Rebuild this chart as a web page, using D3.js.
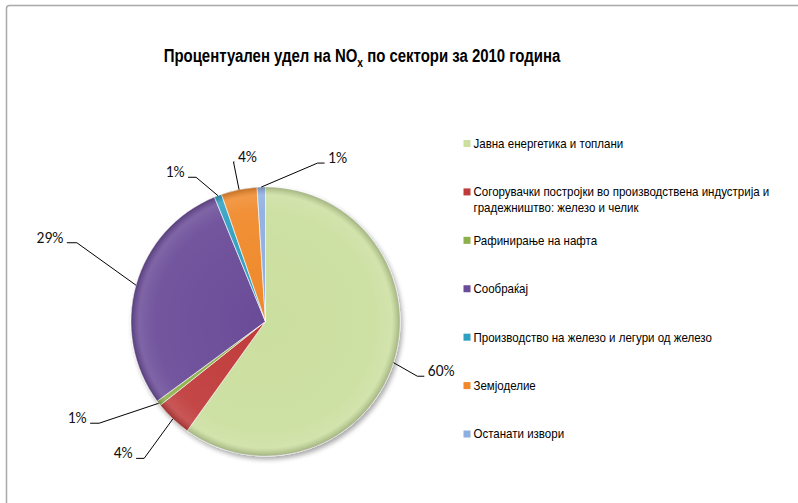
<!DOCTYPE html>
<html>
<head>
<meta charset="utf-8">
<script src="https://cdn.jsdelivr.net/npm/d3@7"></script>
<style>
  body { margin: 0; background: #fff; }
  svg { display: block; }
</style>
</head>
<body>
<svg id="chart" width="798" height="503"></svg>
<script>
// sectors, clockwise from 12 o'clock
const sectors = [
  ["Јавна енергетика и топлани"],
  ["Согорувачки постројки во производствена индустрија и", "градежништво: железо и челик"],
  ["Рафинирање на нафта"],
  ["Сообраќај"],
  ["Производство на железо и легури од железо"],
  ["Земјоделие"],
  ["Останати извори"]
];
const shares = [59.9, 4.4, 0.6, 28.9, 0.9, 4.3, 1.0];
const colors = ["#cbdf9f", "#c03a3a", "#8db04a", "#6a4b98", "#2f9fc2", "#f0892b", "#8eaee0"];

// where the leader line bends: angle offset (deg) from slice middle, radius factor, side of text
const labelPlace = [
  { da: 2, k: 1.2, side: 1, seg: 7 },
  { da: -2, k: 1.36, side: -1, seg: 8 },
  { da: 6, k: 1.45, side: -1, seg: 9 },
  { da: 7, k: 1.52, side: -1, seg: 10 },
  { da: -5, k: 1.19, side: -1, seg: 8 },
  { da: 0, k: 1.21, side: 1, seg: 1 },
  { da: 20, k: 1.24, side: 1, seg: 7 }
];

const svg = d3.select("#chart");
const narrow = "'Liberation Sans Narrow', 'Arial Narrow', 'Liberation Sans', Arial, sans-serif";

// squeeze a text horizontally so it takes the wanted width (no narrow font installed)
function squeeze(sel, x0, wanted) {
  const w = sel.node().getComputedTextLength();
  const k = Math.min(1, wanted / w);
  sel.attr("transform", `translate(${x0},0) scale(${k},1) translate(${-x0},0)`);
  return k;
}

// outer frame (right and bottom run off the picture)
svg.append("rect")
  .attr("x", 6.5).attr("y", 5.5)
  .attr("width", 810).attr("height", 520)
  .attr("rx", 3)
  .attr("fill", "#fff")
  .attr("stroke", "#a9a9a9")
  .attr("stroke-width", 1.5);

// title
const title = svg.append("text")
  .attr("x", 362).attr("y", 62)
  .attr("text-anchor", "middle")
  .attr("font-family", narrow)
  .attr("font-weight", "bold")
  .attr("font-size", 19)
  .attr("fill", "#000");
title.append("tspan").text("Процентуален удел на NO");
title.append("tspan").attr("font-size", 13).attr("dy", 5).text("x");
title.append("tspan").attr("dy", -5).text(" по сектори за 2010 година");
squeeze(title, 362, 397);

const cx = 265.5, cy = 321.5, R = 134.5;

const defs = svg.append("defs");
const shadow = defs.append("filter").attr("id", "shadow")
  .attr("x", "-20%").attr("y", "-20%").attr("width", "140%").attr("height", "140%");
shadow.append("feGaussianBlur").attr("in", "SourceAlpha").attr("stdDeviation", 2.5);
shadow.append("feOffset").attr("dx", 2).attr("dy", 3).attr("result", "b");
shadow.append("feComponentTransfer").append("feFuncA").attr("type", "linear").attr("slope", 0.35);
const merge = shadow.append("feMerge");
merge.append("feMergeNode");
merge.append("feMergeNode").attr("in", "SourceGraphic");

// soft bevel look of the slices
const bevel = defs.append("radialGradient").attr("id", "bevel")
  .attr("gradientUnits", "userSpaceOnUse")
  .attr("cx", 0).attr("cy", 0).attr("r", R);
bevel.append("stop").attr("offset", "0%").attr("stop-color", "#fff").attr("stop-opacity", 0);
bevel.append("stop").attr("offset", "82%").attr("stop-color", "#fff").attr("stop-opacity", 0.06);
bevel.append("stop").attr("offset", "94%").attr("stop-color", "#fff").attr("stop-opacity", 0.14);
bevel.append("stop").attr("offset", "100%").attr("stop-color", "#000").attr("stop-opacity", 0.2);

const pie = d3.pie().sort(null).value(d => d)(shares);
const arc = d3.arc().innerRadius(0).outerRadius(R);

const g = svg.append("g").attr("transform", `translate(${cx},${cy})`);
g.append("g").attr("filter", "url(#shadow)")
  .selectAll("path")
  .data(pie)
  .join("path")
  .attr("d", arc)
  .attr("fill", (d, i) => colors[i])
  .attr("stroke", "#fff")
  .attr("stroke-width", 0.8)
  .attr("stroke-opacity", 0.8);

g.append("g")
  .selectAll("path")
  .data(pie)
  .join("path")
  .attr("d", arc)
  .attr("fill", "url(#bevel)");

// data labels with leader lines
const polar = (a, r) => [r * Math.sin(a), -r * Math.cos(a)];
const lab = g.append("g");
pie.forEach((d, i) => {
  const p = labelPlace[i];
  const mid = (d.startAngle + d.endAngle) / 2;
  const s = polar(mid, R);
  const e = polar(mid + p.da * Math.PI / 180, R * p.k);
  const h = [e[0] + p.side * p.seg, e[1]];
  lab.append("path")
    .attr("d", d3.line()([s, e, h]))
    .attr("fill", "none")
    .attr("stroke", "#000")
    .attr("stroke-width", 1);
  lab.append("text")
    .attr("x", h[0] + p.side * 3.5)
    .attr("y", h[1])
    .attr("text-anchor", p.side > 0 ? "start" : "end")
    .attr("font-family", "Carlito, Lato, sans-serif")
    .attr("font-size", 15.5)
    .attr("fill", "#111")
    .text(Math.round(shares[i]) + "%");
});

// legend
const legend = svg.append("g")
  .attr("font-family", narrow)
  .attr("font-size", 13)
  .attr("fill", "#000");
const ly = d3.scaleLinear().domain([0, sectors.length - 1]).range([143.5, 434]);
let legendK = null;
sectors.forEach((lines, i) => {
  const y = ly(i);
  legend.append("rect")
    .attr("x", 463.5).attr("y", y - 3.5)
    .attr("width", 7).attr("height", 7)
    .attr("fill", colors[i]);
  const t = legend.append("text").attr("x", 473.5).attr("y", y + 4.5);
  lines.forEach((line, j) => {
    t.append("tspan").attr("x", 473.5).attr("dy", j ? 16 : 0).text(line);
  });
  if (legendK === null) legendK = squeeze(t, 473.5, 150);
  else t.attr("transform", `translate(473.5,0) scale(${legendK},1) translate(-473.5,0)`);
});
</script>
</body>
</html>
